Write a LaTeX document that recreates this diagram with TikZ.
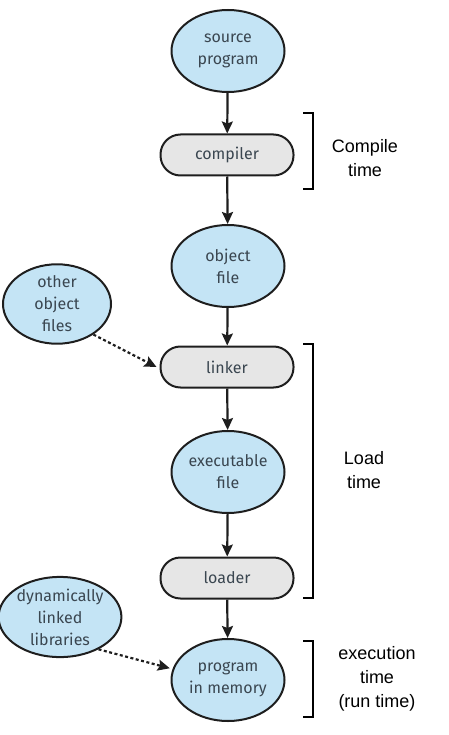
\documentclass[tikz,border=0pt]{standalone}
\usepackage{fontspec}
\setmainfont{Fira Sans}
\newfontfamily\arialfont{Liberation Sans}
\usetikzlibrary{shapes.geometric,arrows.meta}
\definecolor{ellfill}{HTML}{C4E4F5}
\definecolor{boxfill}{HTML}{E6E6E6}
\definecolor{nodetext}{HTML}{3A4650}
\definecolor{edge}{HTML}{1E1E1E}
\tikzset{
  ell/.style={ellipse, draw=edge, line width=2pt, fill=ellfill, text=nodetext,
    minimum width=113pt, minimum height=82pt, inner sep=0pt, align=center,
    font=\fontsize{16}{22}\selectfont},
  procbox/.style={rectangle, rounded corners=20pt, draw=edge, line width=2pt, fill=boxfill,
    text=nodetext, minimum width=133pt, minimum height=41pt, inner sep=0pt,
    font=\fontsize{16}{22}\selectfont},
  flow/.style={-{Stealth[length=12pt,width=11pt,inset=2pt]}, line width=2.2pt, draw=edge},
  dflow/.style={-{Stealth[length=12pt,width=11pt,inset=2pt]}, line width=2.2pt, draw=edge, dash pattern=on 3pt off 2.5pt},
  brk/.style={line width=2.2pt, draw=black},
  sidelabel/.style={align=center, font=\arialfont\fontsize{18}{24}\selectfont, text=black}
}
\begin{document}
\begin{tikzpicture}[x=1pt,y=-1pt]
\useasboundingbox (0,0) rectangle (448,735);
\node[ell] (src) at (228,51) {source\\program};
\node[procbox] (comp) at (227,155) {compiler};
\node[ell] (obj) at (228,266) {object\\file};
\node[procbox] (link) at (227,367) {linker};
\node[ell] (exe) at (228,472) {executable\\file};
\node[procbox] (load) at (227,578) {loader};
\node[ell] (mem) at (228,680) {program\\in memory};
\node[ell, minimum width=108pt, minimum height=78pt] (oth) at (57,304) {other\\object\\files};
\node[ell, minimum width=114pt, minimum height=76pt] (dyn) at (60,617) {dynamically\\linked\\libraries};

\draw[flow] (src) -- (comp);
\draw[flow] (comp) -- (obj);
\draw[flow] (obj) -- (link);
\draw[flow] (link) -- (exe);
\draw[flow] (exe) -- (load);
\draw[flow] (load) -- (mem);
\draw[dflow] (oth.-40) -- ([xshift=-3pt]link.west);
\draw[dflow] (dyn.-40) -- ([xshift=-3pt]mem.168);

\coordinate (c1) at (303,113);
\coordinate (c2) at (303,189);
\draw[brk] (c1) -| (313,189) -- (c2);
\node[sidelabel] (ct) at (365,158) {Compile\\time};

\coordinate (l1) at (303,344);
\coordinate (l2) at (303,598);
\draw[brk] (l1) -| (313,598) -- (l2);
\node[sidelabel] (lt) at (364,470) {Load\\time};

\coordinate (e1) at (303,641);
\coordinate (e2) at (303,717);
\draw[brk] (e1) -| (313,717) -- (e2);
\node[sidelabel] (et) at (377,679) {execution\\time\\(run time)};
\end{tikzpicture}
\end{document}
